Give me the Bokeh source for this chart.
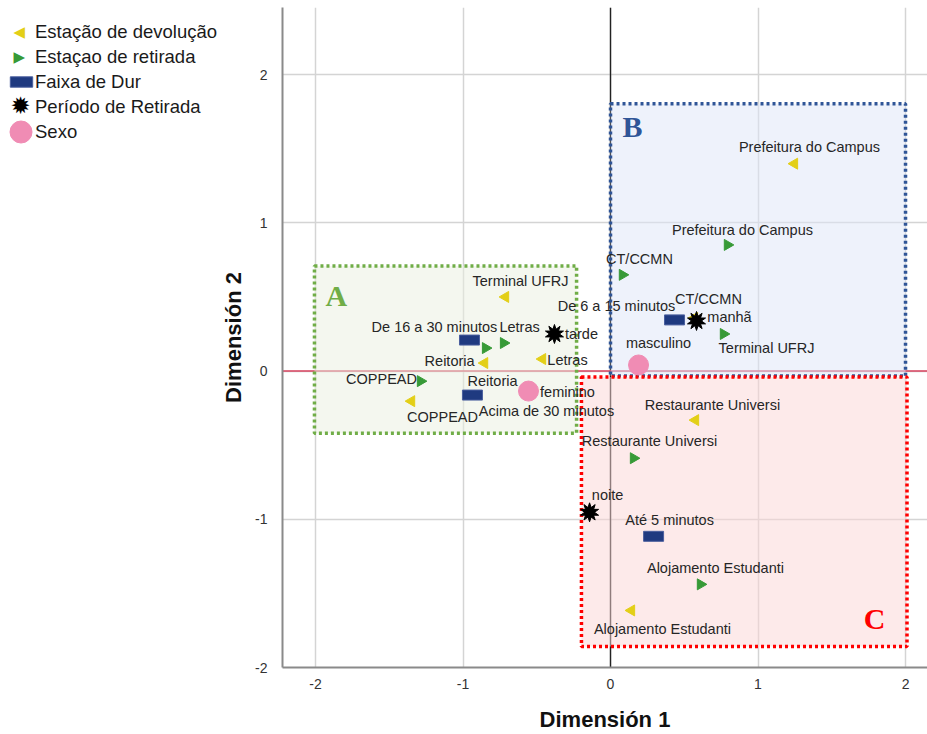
import math
from bokeh.plotting import figure
from bokeh.layouts import row
from bokeh.models import (ColumnDataSource, Range1d, FixedTicker, Span, Legend, LegendItem)
from bokeh.embed import file_html
from bokeh.resources import INLINE
from bokeh.core.properties import value

# ---------------- data ----------------
estacoes = ["Prefeitura do Campus", "CT/CCMN", "Terminal UFRJ", "Letras", "Reitoria",
            "COPPEAD", "Restaurante Universi", "Alojamento Estudanti"]
dev_x = [1.247, 0.569, -0.712, -0.461, -0.854, -1.349, 0.576, 0.142]
dev_y = [1.399, 0.358, 0.500, 0.081, 0.054, -0.203, -0.331, -1.615]
ret_x = [0.793, 0.081, 0.766, -0.725, -0.847, -1.288, 0.156, 0.610]
ret_y = [0.851, 0.649, 0.250, 0.189, 0.155, -0.068, -0.588, -1.439]

dur_labels = ["De 16 a 30 minutos", "Acima de 30 minutos", "De 6 a 15 minutos", "Até 5 minutos"]
dur_x = [-0.956, -0.936, 0.434, 0.292]
dur_y = [0.209, -0.162, 0.345, -1.115]

per_labels = ["tarde", "manhã", "noite"]
per_x = [-0.380, 0.583, -0.142]
per_y = [0.250, 0.338, -0.953]

sexo_labels = ["feminino", "masculino"]
sexo_x = [-0.556, 0.190]
sexo_y = [-0.135, 0.041]

group_names = ["A", "B", "C"]
group_x0 = [-2.007, 0.0, -0.197]
group_x1 = [-0.23, 2.0, 2.01]
group_y0 = [-0.419, -0.034, -1.858]
group_y1 = [0.709, 1.804, -0.04]
group_lx = [-1.858, 0.149, 1.79]
group_ly = [0.507, 1.649, -1.67]

ticks = [-2, -1, 0, 1, 2]
tick_labels = {-2: "-2", -1: "-1", 0: "0", 1: "1", 2: "2"}

legend_labels = ["Estação de devolução", "Estaçao de retirada", "Faixa de Dur",
                 "Período de Retirada", "Sexo"]

# label offsets in screen px (dx right, dy down)
dev_dx = [15, 14, 15, 25, 8, 31, 17, 31]
dev_dy = [-17, -19, -16, 1, 18, 16, -15, 19]
ret_dx = [15, 17, 43, 16, -36, -39, 16, 15]
ret_dy = [-15, -16, 14, -16, 13, -2, -17, -16]
dur_dx = [-35, 74, -58, 16]
dur_dy = [-13, 16, -14, -16]
per_dx = [27, 33, 18]
per_dy = [0, -4, -17]
sexo_dx = [39, 20]
sexo_dy = [1, -22]

# ---------------- styles ----------------
YELLOW = "#e3cf17"
GREEN = "#379a37"
NAVY = "#1f3a80"
PINK = "#f08cb4"
BOX_LINE = ["#70ad47", "#2f5597", "#ff0000"]
BOX_FILL = ["#e9f0df", "#dde5f7", "#fbd5d5"]
FONT = "Liberation Sans"

LEG_W = 218
W, H = 927, 734
FRAME_BOTTOM = 666   # shared frame bottom of the row (screen px)

p = figure(width=W - LEG_W, height=H, output_backend="svg", toolbar_location=None,
           x_range=Range1d(-2.2237, 2.149), y_range=Range1d(-2.0, 2.4527),
           min_border_left=282 - LEG_W, min_border_right=0, min_border_top=7, min_border_bottom=0)
p.outline_line_color = None
p.background_fill_color = "white"

for ax in (p.xaxis[0], p.yaxis[0]):
    ax.ticker = FixedTicker(ticks=ticks)
    ax.major_label_overrides = tick_labels
    ax.axis_line_color = "#8a8a8a"
    ax.axis_line_width = 2
    ax.major_tick_line_color = None
    ax.minor_tick_line_color = None
    ax.major_label_text_font = FONT
    ax.major_label_text_font_size = "14px"
    ax.major_label_text_color = "#333333"
    ax.axis_label_text_font = FONT
    ax.axis_label_text_font_size = "22px"
    ax.axis_label_text_font_style = "bold"
    ax.axis_label_text_color = "#111111"
p.xaxis.axis_label = "Dimensión 1"
p.yaxis.axis_label = "Dimensión 2"
p.xaxis.major_label_standoff = 5
p.xaxis.axis_label_standoff = 15
p.yaxis.major_label_standoff = 9
p.yaxis.axis_label_standoff = 6
p.yaxis.major_label_orientation = "horizontal"

p.xgrid.ticker = FixedTicker(ticks=ticks)
p.ygrid.ticker = FixedTicker(ticks=ticks)
p.grid.grid_line_color = "#d4d4d4"
p.grid.grid_line_width = 1.5

p.add_layout(Span(location=0, dimension="height", line_color="#222222", line_width=1.4, level="underlay"))
p.add_layout(Span(location=0, dimension="width", line_color="#d9435f", line_width=1.6, level="underlay"))

# group boxes
p.quad(left=group_x0, right=group_x1, bottom=group_y0, top=group_y1,
       fill_color=BOX_FILL, fill_alpha=0.5, line_color=BOX_LINE, line_width=3.5, line_dash="3 3")
p.text(x=group_lx, y=group_ly, text=group_names, text_color=BOX_LINE,
       text_font=value("Liberation Serif"), text_font_style="bold", text_font_size="30px",
       text_align="center", text_baseline="middle")

# marks
def dur_rect(fig, xs, ys):
    return fig.rect(xs, ys, width=20, height=10, width_units="screen", height_units="screen",
                    fill_color=NAVY, line_color="#4a5f9e", line_width=1)

def dots(fig, xs, ys, size=20):
    return fig.scatter(xs, ys, marker="circle", size=size, fill_color=PINK, line_color=PINK)

p.scatter(dev_x, dev_y, marker="triangle", angle=math.pi / 2, size=11,
          fill_color=YELLOW, line_color=YELLOW)
p.scatter(ret_x, ret_y, marker="triangle", angle=-math.pi / 2, size=11,
          fill_color=GREEN, line_color=GREEN)
dur_rect(p, dur_x, dur_y)
p.scatter(per_x, per_y, marker="star", size=19, fill_color="black", line_color="black")
p.scatter(per_x, per_y, marker="star", size=19, angle=math.pi / 5,
          fill_color="black", line_color="black")
dots(p, sexo_x, sexo_y)

def labels(xs, ys, txt, dx, dy):
    src = ColumnDataSource(dict(x=xs, y=ys, t=txt, dx=dx, dy=dy))
    p.text(x="x", y="y", text="t", x_offset="dx", y_offset="dy", source=src,
           text_font=value(FONT), text_font_size="14.5px", text_color="#262626",
           text_align="center", text_baseline="middle")

labels(dev_x, dev_y, estacoes, dev_dx, dev_dy)
labels(ret_x, ret_y, estacoes, ret_dx, ret_dy)
labels(dur_x, dur_y, dur_labels, dur_dx, dur_dy)
labels(per_x, per_y, per_labels, per_dx, per_dy)
labels(sexo_x, sexo_y, sexo_labels, sexo_dx, sexo_dy)

# ---------------- legend panel (separate figure on the left) ----------------
lf = figure(width=LEG_W, height=H, output_backend="svg", toolbar_location=None,
            x_range=Range1d(0, 1), y_range=Range1d(0, 1),
            x_axis_location=None, y_axis_location=None,
            min_border_left=0, min_border_right=0, min_border_top=0, min_border_bottom=0)
lf.outline_line_color = None
lf.grid.visible = False

ROW_H = 25
TEXT_X = 35
FIRST_ROW_CY = 31

# hidden renderers that only serve as legend swatches
sw_rect = dur_rect(lf, dur_x, dur_y)
sw_dot = dots(lf, sexo_x, sexo_y, size=22)
blank = lf.scatter(sexo_x, sexo_y, marker="circle", size=1, fill_alpha=0, line_alpha=0)
for r in (sw_rect, sw_dot, blank):
    r.visible = False

def swatch_legend(rends, gw, gh, cx, cy):
    left = cx - gw / 2
    top = cy - gh / 2
    lf.add_layout(Legend(items=[LegendItem(label=" ", renderers=rends)],
                         location=(left, FRAME_BOTTOM - (top + gh)),
                         glyph_width=gw, glyph_height=gh, label_standoff=0,
                         padding=0, margin=0, spacing=0, border_line_color=None,
                         background_fill_alpha=0, label_text_font_size="1px", label_height=1),
                  "center")

def symbol_legend(sym, color, size, width, cx, cy):
    top = cy - ROW_H / 2
    lf.add_layout(Legend(items=[LegendItem(label=sym, renderers=[blank])],
                         location=(cx - width / 2 - 1, FRAME_BOTTOM - (top + ROW_H)),
                         glyph_width=1, glyph_height=ROW_H, label_height=ROW_H, label_standoff=0,
                         padding=0, margin=0, spacing=0, border_line_color=None,
                         background_fill_alpha=0, label_text_font="DejaVu Sans",
                         label_text_font_size=size, label_text_color=color,
                         label_text_baseline="middle"),
                  "center")

symbol_legend("◀", YELLOW, "15px", 11, 19, 31)
symbol_legend("▶", GREEN, "15px", 11, 19, 56)
swatch_legend([sw_rect], 28, 13, 21, 80)
symbol_legend("✹", "black", "24px", 19, 20, 106)
swatch_legend([sw_dot], 55, 55, 20, 130)

# legend texts
text_top = FIRST_ROW_CY - ROW_H / 2
text_leg = Legend(items=[LegendItem(label=lab, renderers=[blank]) for lab in legend_labels],
                  location=(TEXT_X - 1, FRAME_BOTTOM - (text_top + ROW_H * len(legend_labels))),
                  glyph_width=1, glyph_height=ROW_H, label_height=ROW_H, label_standoff=0,
                  padding=0, margin=0, spacing=0, border_line_color=None,
                  background_fill_alpha=0, label_text_font=FONT,
                  label_text_font_size="18.5px", label_text_color="#1a1a1a",
                  label_text_baseline="middle")
lf.add_layout(text_leg, "center")

layout = row(lf, p)
open("out.html", "w").write(file_html(layout, INLINE))
